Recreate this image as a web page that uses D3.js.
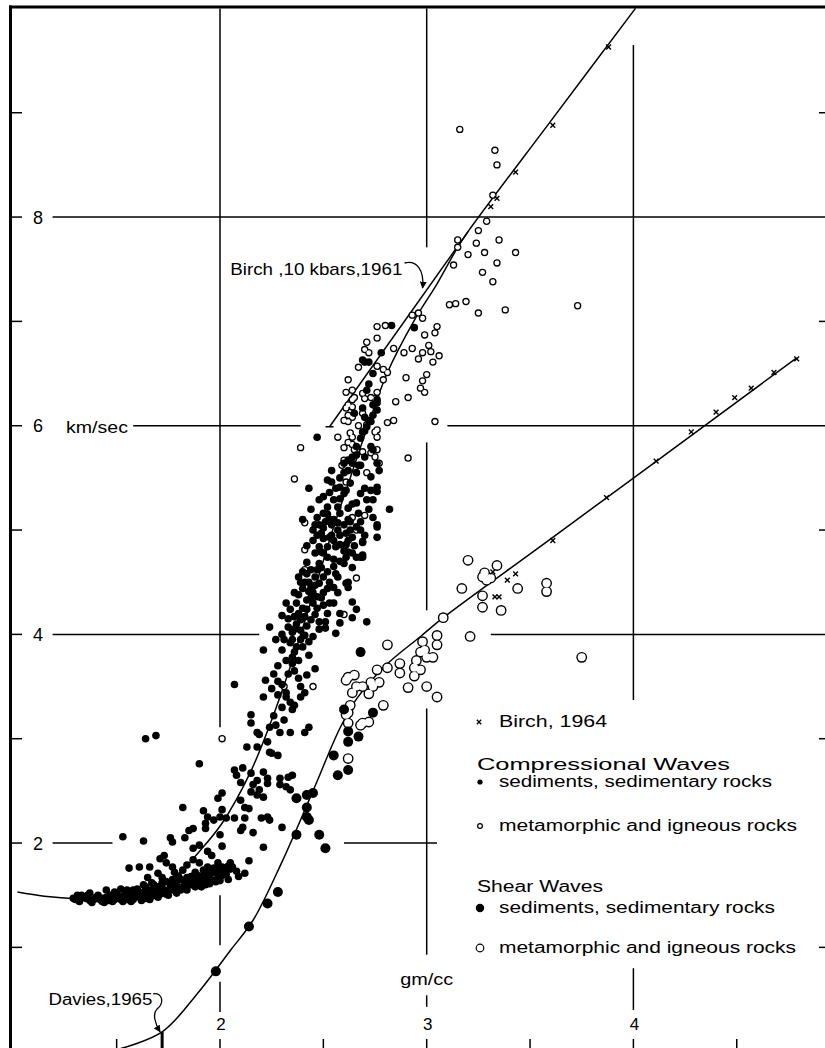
<!DOCTYPE html>
<html>
<head>
<meta charset="utf-8">
<script src="https://cdn.jsdelivr.net/npm/d3@7"></script>
<style>
  body { margin: 0; background: #fff; }
  text { font-family: "Liberation Sans", Arial, sans-serif; fill: #000; }
</style>
</head>
<body>
<svg id="chart" width="825" height="1048"></svg>
<script>
// ---- data (density gm/cc, velocity km/sec) ----
const yTicks = [2, 4, 6, 8];
const xTicks = [2, 3, 4];

// Nafe-Drake compressional curve
const ndCurve = [[1.02,1.53],[1.15,1.49],[1.3,1.47],[1.5,1.49],[1.65,1.56],[1.79,1.69],[1.9,1.92],[2.01,2.19],
  [2.145,2.67],[2.25,3.18],[2.34,3.69],[2.45,4.38],[2.55,5.03],[2.63,5.5],[2.7,5.91],[2.81,6.51],[2.94,7.01],
  [3.05,7.36],[3.15,7.71],[3.2,7.86],[3.6,8.92],[4.01,10.0]];
// Birch, 10 kbars, 1961
const birch1961 = [[2.53,5.99],[3.2,7.86]];
// shear wave curve (from Davies, 1965)
const shearCurve = [[1.52,0.03],[1.72,0.19],[1.9,0.58],[2.05,0.97],[2.16,1.26],[2.3,1.82],[2.45,2.5],[2.58,3.1],
  [2.66,3.38],[2.8,3.7],[2.97,3.98],[3.08,4.16],[3.61,4.93],[4.79,6.65]];
const daviesMark = [1.72, 0.19];

// Birch, 1964 (x)
const birch1964P = [[3.88,9.63],[3.61,8.88],[3.43,8.43],[3.34,8.18],[3.31,8.10]];
const birch1964S = [[4.79,6.64],[4.68,6.51],[4.57,6.36],[4.49,6.27],[4.40,6.13],[4.28,5.94],[4.11,5.66],[3.87,5.31],
  [3.61,4.90],[3.39,4.52],[3.43,4.58],[3.33,4.36],[3.35,4.36],[3.32,4.60]];

// compressional, sediments
const compSed = [
  [1.29,1.47],[1.31,1.50],[1.32,1.49],[1.34,1.48],[1.37,1.45],[1.37,1.52],[1.40,1.48],[1.43,1.47],[1.44,1.43],
  [1.47,1.50],[1.48,1.47],[1.49,1.46],[1.50,1.52],[1.51,1.49],[1.53,1.48],[1.55,1.46],[1.56,1.52],[1.60,1.50],
  [1.61,1.48],[1.63,1.53],[1.66,1.55],[1.69,1.50],[1.70,1.53],[1.72,1.57],[1.75,1.54],[1.76,1.58],[1.79,1.60],
  [1.81,1.55],[1.82,1.58],[1.85,1.62],[1.88,1.58],[1.89,1.63],[1.92,1.65],[1.93,1.60],[1.95,1.66],[1.98,1.63],
  [1.99,1.67],[2.01,1.69],[2.04,1.65],[2.09,1.68],[2.12,1.71],[1.45,1.55],[1.52,1.56],[1.58,1.55],[1.64,1.58],
  [1.68,1.60],[1.74,1.63],[1.77,1.65],
  [1.30,1.46],[1.33,1.50],[1.35,1.47],[1.36,1.50],[1.39,1.46],[1.41,1.50],[1.42,1.46],[1.45,1.48],[1.46,1.45],
  [1.50,1.48],[1.52,1.46],[1.54,1.51],[1.57,1.48],[1.58,1.46],[1.59,1.52],[1.62,1.50],[1.64,1.47],[1.65,1.52],
  [1.67,1.49],[1.68,1.55],[1.71,1.51],[1.73,1.55],[1.74,1.51],[1.77,1.55],[1.78,1.59],[1.80,1.56],[1.83,1.60],
  [1.84,1.64],[1.86,1.60],[1.87,1.65],[1.90,1.63],[1.91,1.68],[1.94,1.66],[1.96,1.71],[1.97,1.64],[2.00,1.70],
  [2.02,1.74],[2.03,1.70],[2.05,1.75],[1.88,1.72],[1.92,1.74],[1.97,1.76],[1.80,1.68],[1.76,1.62],[1.70,1.58],
  [1.32,1.44],[1.38,1.43],[1.43,1.44],[1.48,1.44],[1.53,1.44],[1.57,1.44],[1.62,1.45],[1.66,1.46],[1.70,1.48],
  [1.75,1.50],[1.79,1.52],[1.84,1.55],[1.49,1.53],[1.55,1.55],[1.60,1.56],[1.63,1.60],[1.67,1.62],[1.72,1.62],
  [1.81,1.65],[1.86,1.68],[1.93,1.70],[1.95,1.74],[2.04,1.78],[2.08,1.73],[1.99,1.75],[1.91,1.58],[1.95,1.61],
  [2.00,1.64],
  [1.56,1.76],[1.61,1.77],[1.66,1.77],[1.71,1.85],[1.73,1.88],[1.74,1.81],[1.77,1.77],[1.65,1.67],[1.70,1.71],
  [1.72,1.67],[1.78,1.72],[1.82,1.74],[1.84,1.79],[1.87,1.84],[1.90,1.81],[1.94,1.77],[1.99,1.81],[2.01,1.77],
  [2.05,1.81],[1.79,1.67],[1.84,1.67],[1.89,1.69],[1.94,1.69],[1.99,1.71],[2.01,1.72],[2.06,1.77],
  [1.53,2.06],[1.63,2.02],[1.76,2.05],[1.77,2.01],[1.83,2.05],[1.87,1.95],[1.90,1.98],[1.94,1.92],[1.96,1.88],
  [2.01,1.97],[2.00,2.08],[2.16,2.10],[2.21,1.96],[2.30,2.15],[2.14,1.83],[2.01,2.32],[2.00,2.25],[2.03,2.24],
  [1.94,2.25],[1.97,2.22],[1.93,2.19],[2.07,2.24],[2.12,2.24],[2.20,2.24],[2.24,2.22],[2.23,2.25],[2.11,2.15],
  [2.10,2.12],[1.87,2.14],[1.85,2.12],[1.93,2.14],[2.01,2.48],[1.99,2.43],[2.10,2.41],[1.82,2.34],[1.92,2.31],
  [2.14,2.33],[2.12,2.34],[2.10,2.58],[2.16,2.56],[2.15,2.49],[2.19,2.51],[2.21,2.44],[2.18,2.46],[2.32,2.54],
  [2.34,2.51],[2.07,2.70],[2.11,2.72],[2.08,2.65],[2.15,2.67],[2.21,2.68],[2.23,2.62],[2.18,2.60],[2.23,2.57],
  [2.29,2.62],[2.33,2.63],[2.35,2.65],[2.29,2.56],[1.90,2.76],[2.13,2.92],[2.18,2.92],[2.23,2.97],[2.24,2.87],
  [2.28,2.84],[2.15,3.15],[2.18,3.06],[2.19,3.04],[2.27,3.13],[2.29,3.06],[2.34,3.06],[2.41,3.06],[2.43,3.11],
  [1.64,3.00],[1.69,3.03],[2.15,3.23],[2.24,3.11],[2.25,2.86],
  [2.48,5.05],[2.51,5.08],[2.54,5.05],[2.57,5.00],[2.60,5.05],[2.63,5.08],[2.66,5.03],[2.68,5.08],[2.76,5.05],
  [2.76,4.93],[2.69,4.88],[2.64,4.93],[2.62,4.90],[2.45,5.00],[2.50,4.92],[2.54,4.95],[2.52,4.84],[2.48,4.84],
  [2.46,4.78],[2.49,4.79],[2.52,4.74],[2.56,4.84],[2.61,4.86],[2.62,4.79],[2.64,4.78],[2.68,4.74],[2.69,4.76],
  [2.42,4.69],[2.48,4.68],[2.47,4.62],[2.49,4.64],[2.60,4.68],[2.64,4.64],[2.62,4.50],[2.61,4.49],[2.62,4.45],
  [2.39,4.50],[2.41,4.50],[2.44,4.45],[2.46,4.47],[2.48,4.49],[2.52,4.44],[2.40,4.44],[2.43,4.41],[2.45,4.40],
  [2.47,4.36],[2.49,4.35],[2.42,4.33],[2.45,4.30],[2.37,4.30],[2.40,4.25],[2.42,4.24],[2.34,4.24],[2.36,4.17],
  [2.39,4.14],[2.41,4.17],[2.44,4.14],[2.46,4.19],[2.48,4.12],[2.51,4.12],[2.64,4.31],[2.66,4.24],[2.64,4.16],
  [2.58,4.11],[2.71,4.12],[2.56,4.01],[2.51,4.06],[2.33,4.07],[2.35,4.02],[2.39,4.04],[2.41,3.99],[2.45,3.98],
  [2.43,3.93],[2.39,3.95],[2.34,3.92],[2.37,3.88],[2.36,3.83],[2.35,3.78],[2.32,3.75],[2.35,3.72],[2.24,4.07],
  [2.21,3.85],[2.46,3.67],[2.26,3.62],[2.22,3.56],[2.07,3.52],[2.21,3.40],[2.28,3.42],[2.32,3.44],[2.34,3.35],
  [2.36,3.32],[2.35,3.28],[2.39,3.50],[2.42,3.61],[2.41,3.44],[2.39,3.40],
  [2.40,5.10],[2.44,5.20],[2.46,5.05],[2.50,5.02],[2.52,5.15],[2.55,5.10],[2.58,5.30],[2.56,5.40],[2.52,5.48],
  [2.58,5.50],[2.60,5.35],[2.63,5.45],[2.66,5.55],[2.68,5.62],[2.70,5.70],[2.66,5.80],[2.68,5.88],[2.70,5.95],
  [2.72,6.05],[2.74,6.20],[2.72,6.40],[2.74,6.50],
  [2.40,4.60],[2.44,4.62],[2.46,4.55],[2.50,4.55],[2.52,4.60],[2.55,4.65],[2.57,4.55],[2.55,4.45],[2.50,4.40],
  [2.43,4.50],[2.38,4.38],[2.44,4.35],[2.47,4.25],[2.50,4.28],[2.53,4.30],[2.38,4.20],[2.33,4.15],[2.37,4.10],
  [2.42,4.08],[2.48,4.05],[2.30,4.00],[2.35,3.95],[2.40,3.88],[2.43,3.80],[2.38,3.75],[2.30,3.85],[2.28,3.70],
  [2.33,3.62],[2.38,3.58],[2.30,3.52],[2.25,3.48],[2.30,3.30],[2.26,3.22],[2.31,3.18],
  [2.31,3.95],[2.36,4.05],[2.32,4.30],[2.36,4.40],[2.38,4.55],[2.42,4.58],[2.36,3.65],[2.32,3.40],[2.28,3.55],
  [2.27,3.95],[2.30,4.18],[2.52,4.20],[2.55,4.30],[2.57,4.40],[2.58,4.20],[2.53,4.50],[2.56,4.58],
  [2.45,4.90],[2.42,4.85],[2.47,4.95],[2.55,4.90],[2.58,4.95],[2.60,4.80],[2.58,4.70],[2.55,4.72],[2.65,4.85],
  [2.70,4.95],[2.72,5.20],[2.70,5.40],[2.68,5.35],[2.64,5.25],[2.62,5.10],
  [2.83,6.96],[2.78,6.70],[2.69,6.63],[2.70,6.61],[2.72,6.61],[2.94,6.94],[2.71,6.34],[2.76,6.25],[2.76,6.22],
  [2.69,6.17],[2.65,6.12],[2.76,6.15],[2.70,6.08],[2.74,6.10],[2.73,6.04],[2.71,5.99],[2.69,5.94],[2.47,5.89],
  [2.73,5.80],[2.74,5.77],[2.64,5.70],[2.66,5.72],[2.64,5.64],[2.67,5.62],[2.62,5.67],[2.60,5.64],[2.76,5.64],
  [2.77,5.57],[2.60,5.55],[2.62,5.57],[2.54,5.57],[2.54,5.46],[2.43,5.40],[2.58,5.41],[2.61,5.38],[2.53,5.36],
  [2.55,5.29],[2.50,5.32],[2.48,5.29],[2.52,5.22],[2.57,5.22],[2.58,5.16],[2.50,5.16],[2.47,5.12],[2.53,5.10],
  [2.57,5.07],[2.49,4.97],[2.53,4.93],[2.61,4.97],[2.63,5.00],[2.66,5.26],[2.67,5.16],[2.62,5.21],[2.73,5.51],
  [2.76,5.41],[2.73,5.38],[2.71,5.29],[2.74,5.29],[2.76,5.37],[2.82,5.20],[2.74,5.12],[2.76,5.03],[2.68,5.00],
  [2.69,4.89],[2.58,4.86],[2.50,4.78],[2.61,4.74],[2.66,4.74],[2.69,4.74]
];

// compressional, metamorphic and igneous
const compMet = [
  [3.11,7.16],[3.14,7.17],[3.19,7.19],[3.25,7.08],[2.93,7.06],[2.96,7.08],[2.98,7.03],[3.05,6.95],[3.04,6.89],
  [2.99,6.87],[2.76,6.95],[2.80,6.96],[2.76,6.84],[2.71,6.80],[2.70,6.73],[2.72,6.70],[2.84,6.74],[2.93,6.74],
  [2.89,6.70],[2.98,6.70],[3.01,6.77],[3.02,6.71],[2.96,6.64],[3.03,6.61],[3.06,6.67],[2.67,6.56],[2.76,6.57],
  [2.79,6.54],[2.81,6.51],[2.79,6.44],[2.62,6.44],[2.90,6.46],[2.98,6.43],[3.00,6.49],[2.97,6.36],[2.99,6.32],
  [2.91,6.27],[2.85,6.23],[2.61,6.32],[2.64,6.34],[2.65,6.27],[2.69,6.31],[2.70,6.26],[2.73,6.27],[2.76,6.32],
  [2.75,6.26],[2.64,6.25],[2.62,6.20],[2.61,6.17],[2.64,6.18],[2.69,6.12],[2.62,6.10],[2.64,6.08],[2.60,6.05],
  [2.62,6.04],[2.67,6.00],[2.71,6.01],[2.76,5.96],[2.81,6.03],[2.84,6.05],[3.04,6.04],[2.57,5.89],[2.63,5.93],
  [2.64,5.89],[2.62,5.84],[2.64,5.82],[2.65,5.77],[2.60,5.79],[2.69,5.75],[2.75,5.94],[2.76,5.89],[2.76,5.77],
  [2.73,5.74],[2.75,5.70],[2.77,5.64],[2.71,5.55],[2.60,5.67],[2.59,5.62],[2.61,5.46],[2.91,5.69],[2.39,5.79],
  [2.36,5.49],[2.41,5.07],[2.41,4.81],[2.64,5.12],[2.66,5.00],[2.70,5.14],[2.41,4.62],[2.66,4.54],[2.60,4.19],
  [2.45,3.50],[2.31,3.50],[2.01,3.00],
  [3.16,8.84],[3.33,8.64],[3.34,8.50],[3.32,8.21],[3.29,7.96],[3.25,7.87],[3.24,7.75],[3.35,7.78],[3.28,7.66],
  [3.34,7.56],[3.27,7.47],[3.32,7.38],[3.20,7.64],[3.13,7.54],[3.15,7.78],[3.15,7.71],[3.38,7.11],[3.43,7.66],
  [3.73,7.15]
];

// shear, sediments
const shearSed = [
  [2.68,3.83],[2.60,3.28],[2.74,3.25],[2.62,3.07],[2.67,3.02],[2.62,2.97],[2.55,2.84],[2.62,2.70],[2.57,2.65],
  [2.42,2.46],[2.45,2.48],[2.42,2.34],[2.42,2.25],[2.48,2.08],[2.37,2.43],[2.37,2.08],[2.51,1.95],[2.28,1.53],
  [2.23,1.42],[2.14,1.20],[1.98,0.77],[2.43,2.22]
];

// shear, metamorphic and igneous
const shearMet = [
  [3.20,4.71],[3.34,4.66],[3.17,4.44],[3.27,4.55],[3.29,4.52],[3.28,4.59],[3.31,4.54],[3.27,4.37],[3.27,4.26],
  [3.36,4.23],[3.44,4.44],[3.58,4.49],[3.58,4.41],[3.21,3.98],[3.08,4.16],[3.05,3.99],[3.05,3.90],[2.98,3.93],
  [2.97,3.83],[2.99,3.85],[3.00,3.78],[3.03,3.78],[2.95,3.75],[2.94,3.68],[2.97,3.66],[2.94,3.60],[3.00,3.50],
  [3.05,3.40],[2.91,3.49],[2.87,3.63],[2.87,3.72],[2.81,3.90],[2.81,3.68],[2.76,3.66],[2.77,3.54],[2.73,3.54],
  [2.74,3.50],[2.72,3.43],[2.79,3.32],[2.69,3.15],[2.72,3.16],[2.68,3.13],[2.66,3.50],[2.65,3.61],[2.62,3.59],
  [2.61,3.56],[2.64,3.44],[2.63,3.32],[2.61,3.23],[2.62,3.15],[2.62,2.81],[3.75,3.78],[2.69,3.50],[2.62,3.25]
];

// ---- layout ----
const W = 825, H = 1048;
const svg = d3.select('#chart');
const x = d3.scaleLinear().domain([1, 5]).range([13.3, 840.1]);
const y = d3.scaleLinear().domain([0, 10]).range([1051.7, 8.4]);

// grid segments (broken where the figure leaves room for data and labels)
const hGrid = [
  { v: 8, seg: [[1.19, 5]] },
  { v: 6, seg: [[1.58, 2.39], [3.10, 5]] },
  { v: 4, seg: [[1.19, 2.19], [3.31, 5]] },
  { v: 2, seg: [[1.19, 1.48], [2.60, 3.05]] }
];
const vGrid = [
  { v: 2, seg: [[3.11, 10], [1.02, 1.50], [0.38, 0.67]] },
  { v: 3, seg: [[7.71, 10], [4.23, 5.84], [0.93, 3.29], [0.43, 0.54]] },
  { v: 4, seg: [[3.37, 9.65], [0.40, 0.80]] }
];

const grid = svg.append('g').attr('stroke', '#000').attr('stroke-width', 1.5);
hGrid.forEach(g => g.seg.forEach(s => {
  grid.append('line').attr('x1', x(s[0])).attr('x2', x(s[1])).attr('y1', y(g.v)).attr('y2', y(g.v));
}));
vGrid.forEach(g => g.seg.forEach(s => {
  grid.append('line').attr('x1', x(g.v)).attr('x2', x(g.v)).attr('y1', y(s[0])).attr('y2', y(s[1]));
}));

// left ticks at every km/sec, short ticks on the right edge
d3.range(1, 10).forEach(v => {
  grid.append('line').attr('x1', 10).attr('x2', 22).attr('y1', y(v)).attr('y2', y(v));
  if (v % 2 === 1) grid.append('line').attr('x1', 819).attr('x2', 825).attr('y1', y(v)).attr('y2', y(v));
});
// bottom ticks every half gm/cc
d3.range(1.5, 5, 0.5).forEach(v => {
  grid.append('line').attr('x1', x(v)).attr('x2', x(v)).attr('y1', 1039).attr('y2', H);
});

// frame: heavy left and top edges
svg.append('line').attr('x1', 10.5).attr('x2', 10.5).attr('y1', 5.5).attr('y2', H)
  .attr('stroke', '#000').attr('stroke-width', 3);
svg.append('line').attr('x1', 9).attr('x2', W).attr('y1', 7).attr('y2', 7)
  .attr('stroke', '#000').attr('stroke-width', 3);

// tick labels
svg.selectAll('.ylab').data(yTicks).enter().append('text')
  .attr('x', 38).attr('y', d => y(d) + 6.5)
  .attr('text-anchor', 'middle').style('font-size', '18px').text(d => d);
svg.append('text').attr('x', 66).attr('y', y(6) + 7).style('font-size', '16px')
  .attr('textLength', 62).attr('lengthAdjust', 'spacingAndGlyphs').text('km/sec');
svg.selectAll('.xlab').data(xTicks).enter().append('text')
  .attr('x', d => x(d) + 1).attr('y', 1030)
  .attr('text-anchor', 'middle').style('font-size', '17px').text(d => d);
svg.append('text').attr('x', x(3)).attr('y', 985).attr('text-anchor', 'middle')
  .style('font-size', '16px').attr('textLength', 53).attr('lengthAdjust', 'spacingAndGlyphs').text('gm/cc');

// curves
const lineGen = d3.line().x(d => x(d[0])).y(d => y(d[1]));
const curves = svg.append('g').attr('fill', 'none').attr('stroke', '#000').attr('stroke-width', 1.5);
curves.append('path').datum(ndCurve).attr('d', lineGen.curve(d3.curveCatmullRom.alpha(0.5)));
curves.append('path').datum(shearCurve).attr('d', lineGen.curve(d3.curveCatmullRom.alpha(0.5)));
curves.append('path').datum(birch1961).attr('d', lineGen.curve(d3.curveLinear));
// end bar of the Birch 1961 line
curves.append('line')
  .attr('x1', x(birch1961[0][0]) - 4).attr('x2', x(birch1961[0][0]) + 4)
  .attr('y1', y(birch1961[0][1])).attr('y2', y(birch1961[0][1]));
// Davies, 1965 bar
curves.append('line').attr('stroke-width', 3)
  .attr('x1', x(daviesMark[0])).attr('x2', x(daviesMark[0]))
  .attr('y1', y(daviesMark[1])).attr('y2', H);

// open circles: black discs then white cores, so touching circles merge into one outline
function openCircles(data, r, sw) {
  const g = svg.append('g');
  g.selectAll('circle.o').data(data).enter().append('circle')
    .attr('cx', d => x(d[0])).attr('cy', d => y(d[1])).attr('r', r).attr('fill', '#000');
  g.selectAll('circle.i').data(data).enter().append('circle')
    .attr('cx', d => x(d[0])).attr('cy', d => y(d[1])).attr('r', r - sw).attr('fill', '#fff');
}
openCircles(compMet, 3.7, 1.3);
openCircles(shearMet, 5.4, 1.4);

svg.append('g').selectAll('circle').data(compSed).enter().append('circle')
  .attr('cx', d => x(d[0])).attr('cy', d => y(d[1])).attr('r', 3.8).attr('fill', '#000');
svg.append('g').selectAll('circle').data(shearSed).enter().append('circle')
  .attr('cx', d => x(d[0])).attr('cy', d => y(d[1])).attr('r', 5).attr('fill', '#000');

// Birch 1964 crosses
const cross = (cx, cy, s) => `M${cx - s},${cy - s}L${cx + s},${cy + s}M${cx - s},${cy + s}L${cx + s},${cy - s}`;
svg.append('g').attr('stroke', '#000').attr('stroke-width', 1.4)
  .selectAll('path').data(birch1964P.concat(birch1964S)).enter().append('path')
  .attr('d', d => cross(x(d[0]), y(d[1]), 2.4));

// annotations
const defs = svg.append('defs');
defs.append('marker').attr('id', 'arr').attr('viewBox', '0 0 10 10')
  .attr('refX', 9).attr('refY', 5).attr('markerWidth', 7).attr('markerHeight', 7)
  .attr('orient', 'auto').attr('markerUnits', 'userSpaceOnUse')
  .append('path').attr('d', 'M0,0L10,5L0,10Z').attr('fill', '#000');

svg.append('text').attr('x', x(2.05)).attr('y', y(7.44)).style('font-size', '17px')
  .attr('textLength', 172).attr('lengthAdjust', 'spacingAndGlyphs').text('Birch ,10 kbars,1961');
const bx = x(2.98), by = y(7.32);
svg.append('path').attr('fill', 'none').attr('stroke', '#000').attr('stroke-width', 1.3)
  .attr('marker-end', 'url(#arr)')
  .attr('d', `M${bx - 18},${by - 25} C${bx - 6},${by - 28} ${bx + 2},${by - 18} ${bx},${by}`);

svg.append('text').attr('x', x(1.17)).attr('y', y(0.45)).style('font-size', '16px')
  .attr('textLength', 104).attr('lengthAdjust', 'spacingAndGlyphs').text('Davies,1965');
const dx = x(daviesMark[0]) - 2, dy = y(daviesMark[1]);
svg.append('path').attr('fill', 'none').attr('stroke', '#000').attr('stroke-width', 1.3)
  .attr('marker-end', 'url(#arr)')
  .attr('d', `M${dx - 7},${dy - 38} C${dx + 3},${dy - 40} ${dx + 4},${dy - 28} ${dx - 3},${dy - 23} C${dx - 8},${dy - 18} ${dx - 5},${dy - 8} ${dx},${dy}`);

// legend
const legendRows = [
  { sym: 'x', text: 'Birch, 1964', y: 727, w: 108 },
  { sym: null, text: 'Compressional Waves', y: 770, w: 253 },
  { sym: 'cs', text: 'sediments, sedimentary rocks', y: 787, w: 273 },
  { sym: 'cm', text: 'metamorphic and igneous rocks', y: 831, w: 298 },
  { sym: null, text: 'Shear Waves', y: 892, w: 126 },
  { sym: 'ss', text: 'sediments, sedimentary rocks', y: 913, w: 276 },
  { sym: 'sm', text: 'metamorphic and igneous rocks', y: 953, w: 297 }
];
const leg = svg.append('g');
legendRows.forEach(r => {
  const tx = r.sym ? 499 : 477;
  leg.append('text').attr('x', tx).attr('y', r.y).style('font-size', '16px')
    .attr('textLength', r.w).attr('lengthAdjust', 'spacingAndGlyphs').text(r.text);
  const cy = r.y - 5;
  if (r.sym === 'x') leg.append('path').attr('d', cross(479, cy, 2.2)).attr('stroke', '#000').attr('stroke-width', 1.3);
  if (r.sym === 'cs') leg.append('circle').attr('cx', 480).attr('cy', cy).attr('r', 2.6).attr('fill', '#000');
  if (r.sym === 'cm') leg.append('circle').attr('cx', 480).attr('cy', cy).attr('r', 2.4)
    .attr('fill', '#fff').attr('stroke', '#000').attr('stroke-width', 1.2);
  if (r.sym === 'ss') leg.append('circle').attr('cx', 480).attr('cy', cy).attr('r', 4.2).attr('fill', '#000');
  if (r.sym === 'sm') leg.append('circle').attr('cx', 480).attr('cy', cy).attr('r', 3.8)
    .attr('fill', '#fff').attr('stroke', '#000').attr('stroke-width', 1.2);
});
</script>
</body>
</html>
